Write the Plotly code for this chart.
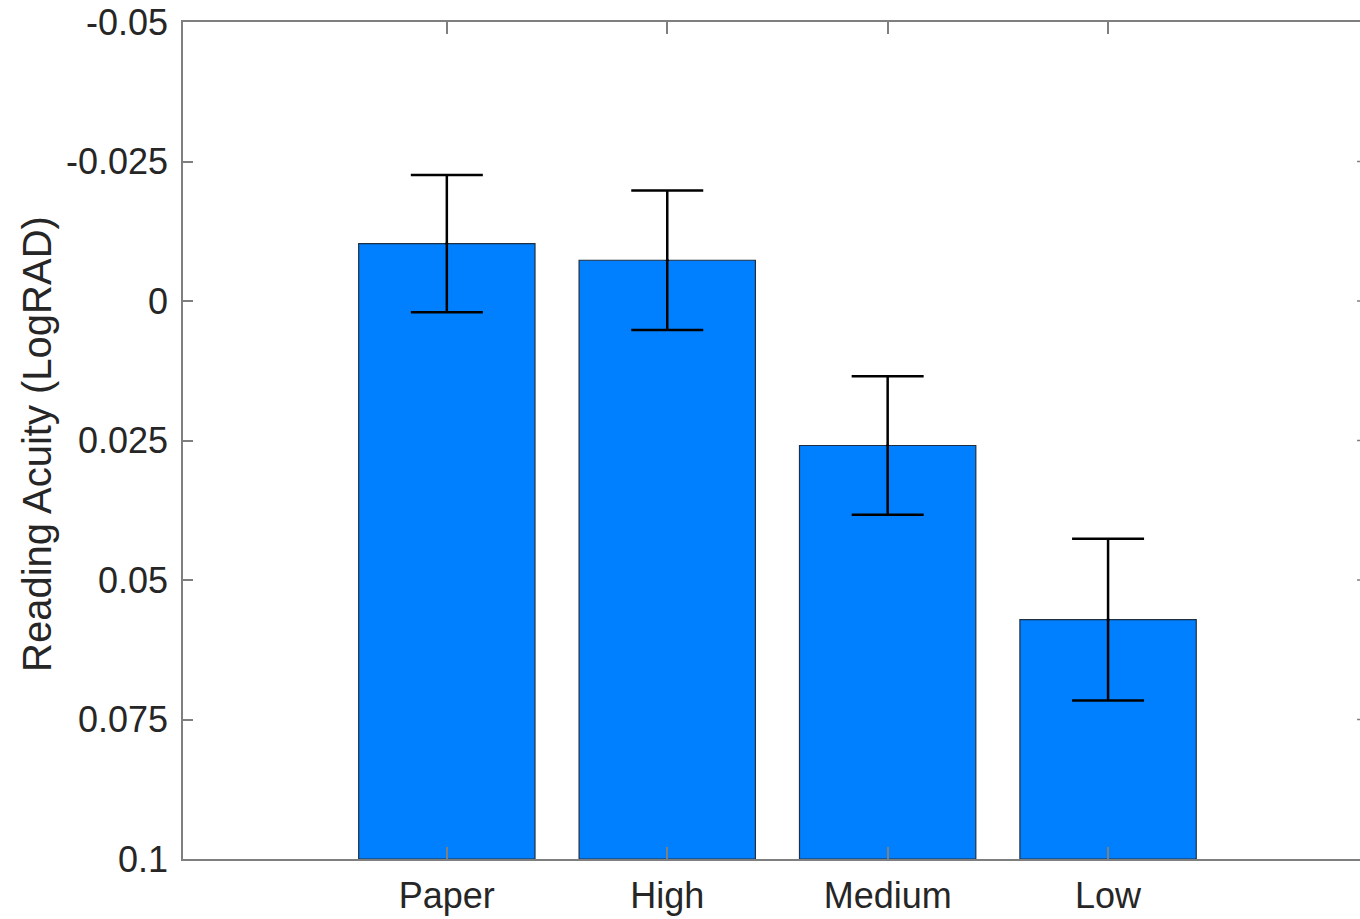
import plotly.graph_objects as go

# Reading acuity per display condition (LogRAD, smaller = better)
categories = ["Paper", "High", "Medium", "Low"]
acuity_mean = [-0.0103, -0.0073, 0.0259, 0.0571]
acuity_err = [0.0123, 0.0125, 0.0124, 0.0145]

y_tickvals = [-0.05, -0.025, 0, 0.025, 0.05, 0.075, 0.1]
y_ticktext = ["-0.05", "-0.025", "0", "0.025", "0.05", "0.075", "0.1"]

Y_BOTTOM = 0.1   # bars grow upward from the bottom of the reversed axis
Y_TOP = -0.05

x_pos = list(range(len(categories)))
axis_grey = "#7f7f7f"
text_col = "#262626"
font_family = "Liberation Sans, Arial, Helvetica, sans-serif"

fig = go.Figure()

fig.add_trace(go.Bar(
    x=x_pos,
    y=[v - Y_BOTTOM for v in acuity_mean],
    base=Y_BOTTOM,
    width=0.8,
    marker=dict(color="#0080ff", line=dict(color="#1f2f3f", width=1.2)),
    showlegend=False,
))

fig.add_trace(go.Scatter(
    x=x_pos,
    y=acuity_mean,
    mode="markers",
    marker=dict(size=3, color="black"),
    error_y=dict(type="data", array=acuity_err, visible=True,
                 color="black", thickness=2.5, width=36),
    showlegend=False,
))

# right-hand tick stubs (the right spine sits just beyond the visible area)
for tv in y_tickvals[1:-1]:
    fig.add_shape(type="line", xref="paper", yref="y",
                  x0=0.9975, x1=1.0, y0=tv, y1=tv,
                  line=dict(color=axis_grey, width=1.5))

fig.add_annotation(
    text="Reading Acuity (LogRAD)", textangle=-90,
    xref="paper", yref="paper", x=-0.124, y=0.496,
    xanchor="center", yanchor="middle", showarrow=False,
    font=dict(family=font_family, size=40, color=text_col),
)

fig.update_layout(
    width=1360, height=919,
    margin=dict(l=183, r=0, t=22, b=60),
    paper_bgcolor="white", plot_bgcolor="white",
    font=dict(family=font_family, size=36, color=text_col),
    xaxis=dict(
        range=[-1.197, 4.143],
        tickvals=x_pos, ticktext=categories,
        ticks="inside", ticklen=12, tickwidth=1.5, tickcolor=axis_grey,
        showline=True, linecolor=axis_grey, linewidth=1.5, mirror="ticks",
        showgrid=False, zeroline=False,
        ticklabelstandoff=4,
        tickfont=dict(size=36, color=text_col),
    ),
    yaxis=dict(
        range=[Y_BOTTOM, Y_TOP],
        tickvals=y_tickvals, ticktext=y_ticktext,
        ticks="inside", ticklen=10, tickwidth=1.5, tickcolor=axis_grey,
        showline=True, linecolor=axis_grey, linewidth=1.5,
        showgrid=False, zeroline=False,
        ticklabelstandoff=6,
        tickfont=dict(size=36, color=text_col),
    ),
)

fig.write_html("out.html")
